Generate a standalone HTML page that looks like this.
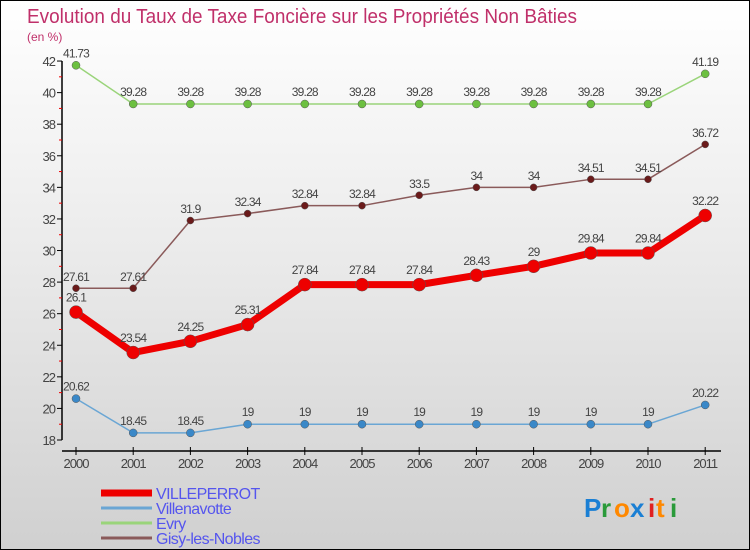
<!DOCTYPE html>
<html><head><meta charset="utf-8"><style>
html,body{margin:0;padding:0}
body{width:750px;height:550px;overflow:hidden;font-family:"Liberation Sans",sans-serif}
#wrap{position:relative;width:748px;height:548px;border:1px solid #000;background:linear-gradient(#ffffff 0%,#ebebeb 45%,#d0d0d0 100%)}
svg{position:absolute;left:0;top:0}
</style></head><body>
<div id="wrap">
<svg id="chart" width="748" height="548">
<text x="26" y="22" font-size="20" fill="#c0306a" textLength="550" lengthAdjust="spacingAndGlyphs">Evolution du Taux de Taxe Foncière sur les Propriétés Non Bâties</text>
<text x="26" y="40" font-size="12" fill="#c0306a">(en %)</text>
<g id="axes"></g>
<g id="series"></g>
<g id="legend"></g>
<g font-size="26" font-family="Liberation Sans, sans-serif" font-weight="bold">
<text x="583" y="516" fill="#1a7fd4">P</text><text x="600" y="516" fill="#2a9a3a">r</text><text x="613" y="516" fill="#ff8800">o</text><text x="629" y="516" fill="#1a7fd4">x</text><text x="647" y="516" fill="#e02020">i</text><text x="655" y="516" fill="#ff8800">t</text><text x="669" y="516" fill="#2a9a3a">i</text>
</g>
</svg>
</div>
<script>
const years=[2000,2001,2002,2003,2004,2005,2006,2007,2008,2009,2010,2011];
const villeperrot=[26.1,23.54,24.25,25.31,27.84,27.84,27.84,28.43,29,29.84,29.84,32.22];
const villenavotte=[20.62,18.45,18.45,19,19,19,19,19,19,19,19,20.22];
const evry=[41.73,39.28,39.28,39.28,39.28,39.28,39.28,39.28,39.28,39.28,39.28,41.19];
const gisy=[27.61,27.61,31.9,32.34,32.84,32.84,33.5,34,34,34.51,34.51,36.72];
const yTicks=[18,20,22,24,26,28,30,32,34,36,38,40,42];
const seriesNames=["VILLEPERROT","Villenavotte","Evry","Gisy-les-Nobles"];

const NS="http://www.w3.org/2000/svg";
function X(i){return 75+i*57.2;}
function Y(v){return 439-(v-18)*15.79;}
function mk(tag,attrs,parent){const e=document.createElementNS(NS,tag);for(const k in attrs)e.setAttribute(k,attrs[k]);parent.appendChild(e);return e;}
const axes=document.getElementById('axes');
let a=mk('line',{x1:61,y1:Y(18),x2:61,y2:Y(42),stroke:'#000','stroke-width':1.5},axes);


yTicks.forEach(v=>{
  mk('line',{x1:56,x2:61,y1:Y(v),y2:Y(v),stroke:'#000'},axes);
  const t=mk('text',{x:54,y:Y(v)+5,'font-size':13,fill:'#444','text-anchor':'end','letter-spacing':'-1'},axes);
  t.textContent=v;
  
  
  if(v<42) mk('line',{x1:58,x2:61,y1:Y(v+1),y2:Y(v+1),stroke:'#e00'},axes);
});
a=mk('line',{x1:61,y1:450,x2:720,y2:450,stroke:'#000','stroke-width':1.5},axes);


years.forEach((y,i)=>{
  mk('line',{x1:X(i),x2:X(i),y1:446,y2:454,stroke:'#000'},axes);
  const t=mk('text',{x:X(i),y:467,'font-size':13,fill:'#444','text-anchor':'middle','letter-spacing':'-1'},axes);
  t.textContent=y;
  
  
});
const sg=document.getElementById('series');
function draw(data,name,line,dot,w,r){
  const g=mk('g',{},sg);
  
  
  const pts=data.map((v,i)=>X(i)+','+Y(v)).join(' ');
  mk('polyline',{points:pts,fill:'none',stroke:line,'stroke-width':w,'stroke-linejoin':'round'},g);
  data.forEach((v,i)=>{
    const c=mk('circle',{cx:X(i),cy:Y(v),r:r,fill:dot,stroke:'#555','stroke-width':0.5},g);
    
    
    const t=mk('text',{x:X(i),y:Y(v)-r-4,'font-size':12,fill:'#444','text-anchor':'middle','letter-spacing':'-0.8'},g);
    t.textContent=v;
    
    
  });
}
draw(evry,'evry','#9ad47a','#6cc040',1.5,4);
draw(gisy,'gisy-les-nobles','#8a5a5a','#6a1a1a',1.5,3.5);
draw(villenavotte,'villenavotte','#6aa6d4','#3a88c8',1.5,4);
draw(villeperrot,'villeperrot','#ee0000','#ee0000',7,6.5);
const lg=document.getElementById('legend');
const cols=['#ee0000','#6aa6d4','#9ad47a','#8a5a5a'];
const ws=[7,3,3,3];
seriesNames.forEach((n,i)=>{
  const y=492+i*15;
  const g=mk('g',{},lg);
  
  
  mk('line',{x1:100,x2:151,y1:y,y2:y,stroke:cols[i],'stroke-width':ws[i]},g);
  const t=mk('text',{x:155,y:y+6,'font-size':16,fill:'#5555ee','letter-spacing':'-0.6'},g);
  t.textContent=n;
});
</script>
</body></html>
